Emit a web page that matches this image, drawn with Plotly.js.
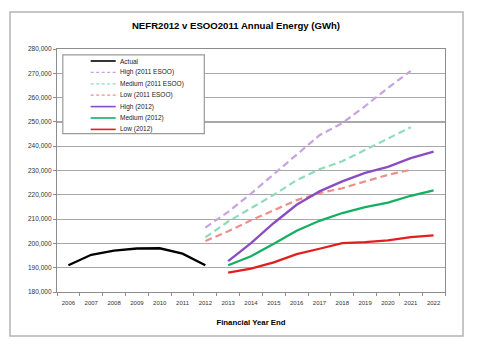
<!DOCTYPE html>
<html>
<head>
<meta charset="utf-8">
<script src="https://cdn.plot.ly/plotly-3.0.1.min.js"></script>
<style>
html,body{margin:0;padding:0;background:#fff;}
#chart{width:478px;height:355px;}
</style>
</head>
<body>
<div id="chart"></div>
<script>
var years = ['2006','2007','2008','2009','2010','2011','2012','2013','2014','2015','2016','2017','2018','2019','2020','2021','2022'];
var actualYears = ['2006','2007','2008','2009','2010','2011','2012'];
var esooYears = ['2012','2013','2014','2015','2016','2017','2018','2019','2020','2021'];
var nefrYears = ['2013','2014','2015','2016','2017','2018','2019','2020','2021','2022'];

var actual = [191000,195300,197000,197900,198000,195800,191000];
var highESOO = [206500,213000,220500,228500,236500,244500,249500,256500,264000,271000];
var mediumESOO = [202500,209000,214500,220000,226000,230500,233800,238500,243300,247800];
var lowESOO = [201000,205000,209500,213800,217800,220700,222700,225500,228200,230300];
var high2012 = [192700,200100,208400,215900,221400,225500,229000,231500,235100,237800];
var medium2012 = [191000,194700,199900,205200,209300,212500,214900,216800,219600,221800];
var low2012 = [188000,189600,192200,195600,197800,200100,200500,201200,202600,203300];

var seriesNames = ['Actual','High (2011 ESOO)','Medium (2011 ESOO)','Low (2011 ESOO)','High (2012)','Medium (2012)','Low (2012)'];
var yTicks = [180000,190000,200000,210000,220000,230000,240000,250000,260000,270000,280000];

var colors = ['#000000','#c7a3df','#8edcb8','#ee908a','#8a4cc2','#13b062','#e0201e'];
var dashed = [false,true,true,true,false,false,false];
var xs = [actualYears, esooYears, esooYears, esooYears, nefrYears, nefrYears, nefrYears];
var ys = [actual, highESOO, mediumESOO, lowESOO, high2012, medium2012, low2012];

var traces = [];
for (var i = 0; i < ys.length; i++) {
  traces.push({
    type: 'scatter', mode: 'lines', name: seriesNames[i],
    x: xs[i], y: ys[i], showlegend: false,
    line: {color: colors[i], width: dashed[i] ? 2.2 : 2.3, dash: dashed[i] ? '7px,4px' : 'solid'},
    hoverinfo: 'skip'
  });
}

// plot area in pixels: x 57..445, y 49..292
var L = 57, R = 445, T = 49, B = 292;
function px(x){ return (x - L) / (R - L); }
function py(y){ return (B - y) / (B - T); }

var shapes = [];
var annotations = [];
// outer frame
shapes.push({type:'rect', xref:'paper', yref:'paper', x0:px(10), x1:px(463), y0:py(336), y1:py(12),
  line:{color:'#b4b4b4', width:1.5}, fillcolor:'rgba(0,0,0,0)', layer:'below'});
// legend box
shapes.push({type:'rect', xref:'paper', yref:'paper', x0:px(62.8), x1:px(204.3), y0:py(133.6), y1:py(54.8),
  line:{color:'#9a9a9a', width:1.2}, fillcolor:'#ffffff', layer:'above'});
for (var k = 0; k < seriesNames.length; k++) {
  var yy = 61 + 11.4 * k;
  shapes.push({type:'line', xref:'paper', yref:'paper', x0:px(90.7), x1:px(115.7), y0:py(yy), y1:py(yy),
    line:{color:colors[k], width: dashed[k] ? 1.2 : 1.6, dash: dashed[k] ? '3px,2.5px' : 'solid'}, layer:'above'});
  annotations.push({xref:'paper', yref:'paper', x:px(118.3), y:py(yy), xanchor:'left', yanchor:'middle',
    text: seriesNames[k], showarrow:false, font:{family:'Arial, Liberation Sans, sans-serif', size:6.5, color:'#222222'}});
}

var layout = {
  width: 478, height: 355,
  margin: {l: L, r: 478 - R, t: T, b: 355 - B, pad: 0},
  paper_bgcolor: '#ffffff', plot_bgcolor: '#ffffff',
  showlegend: false,
  title: {text: 'NEFR2012 v ESOO2011 Annual Energy (GWh)', xref: 'container', yref: 'container',
    x: 236/478, y: 1 - 26/355, xanchor: 'center', yanchor: 'middle',
    font: {family: 'Arial, Liberation Sans, sans-serif', size: 9.6, weight: 'bold', color: '#000000'}},
  xaxis: {
    type: 'category', categoryorder: 'array', categoryarray: years,
    range: [-0.5, 16.5], tickvals: years, ticktext: years, tickangle: 0,
    tickson: 'boundaries', ticks: 'outside', ticklen: 3, tickcolor: '#8c8c8c', tickwidth: 1,
    ticklabelstandoff: 5,
    showgrid: false, zeroline: false,
    showline: true, linecolor: '#8c8c8c', linewidth: 1.2, mirror: true,
    tickfont: {family: 'Arial, Liberation Sans, sans-serif', size: 6, color: '#333333'},
    title: {text: 'Financial Year End', standoff: 14,
      font: {family: 'Arial, Liberation Sans, sans-serif', size: 7.8, weight: 'bold', color: '#000000'}},
    fixedrange: true, automargin: false
  },
  yaxis: {
    range: [180000, 280000], tickvals: yTicks, tickformat: ',d',
    ticks: 'outside', ticklen: 3, tickcolor: '#8c8c8c', tickwidth: 1,
    showgrid: true, gridcolor: '#a8a8a8', gridwidth: 1.2, zeroline: false,
    showline: true, linecolor: '#8c8c8c', linewidth: 1.2, mirror: true,
    tickfont: {family: 'Arial, Liberation Sans, sans-serif', size: 6.5, color: '#333333'},
    fixedrange: true, automargin: false
  },
  shapes: shapes,
  annotations: annotations
};

Plotly.newPlot('chart', traces, layout, {staticPlot: true, displayModeBar: false});
</script>
</body>
</html>
